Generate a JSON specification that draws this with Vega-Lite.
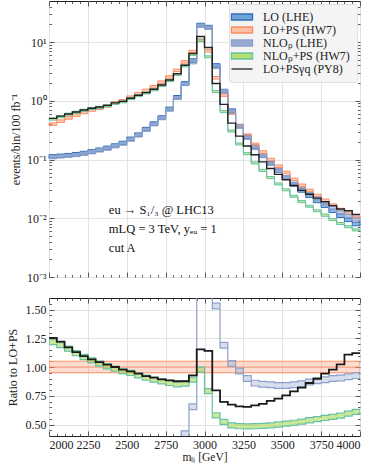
{
"$schema": "https://vega.github.io/schema/vega-lite/v6.json",
"padding": {"left": 5, "top": 0, "right": 15, "bottom": 0},
"spacing": 13,
"config": {
 "font": "Liberation Serif",
 "view": {"stroke": "#222", "strokeWidth": 1},
 "axis": {"labelFont": "Liberation Serif", "titleFont": "Liberation Serif", "labelFontSize": 12, "titleFontSize": 12, "titleFontWeight": "normal", "labelColor": "#222", "titleColor": "#222", "domain": false, "tickColor": "#333", "tickWidth": 0.8, "gridColor": "#e3e3e3", "gridWidth": 1},
 "legend": {"title": null, "orient": "top-right", "offset": 3, "padding": 7, "fillColor": "#f4f4f4", "strokeColor": "#e0e0e0", "cornerRadius": 2, "labelFont": "Liberation Serif", "labelFontSize": 12, "labelColor": "#222", "labelOffset": 15, "rowPadding": 1, "symbolSize": 100, "symbolStrokeWidth": 1.3, "symbolOpacity": 1}
},
"datasets": {
"top": [
{"x0":2000,"x1":2050,"lo":0.113,"lo_dn":0.105,"lo_up":0.121,"ps":0.40,"ps_dn":0.38,"ps_up":0.42,"nlo":0.110,"nlo_dn":0.103,"nlo_up":0.117,"nps":0.487,"nps_dn":0.468,"nps_up":0.506,"py8":0.502},
{"x0":2050,"x1":2100,"lo":0.116,"lo_dn":0.108,"lo_up":0.124,"ps":0.45,"ps_dn":0.428,"ps_up":0.473,"nlo":0.1125,"nlo_dn":0.106,"nlo_up":0.119,"nps":0.536,"nps_dn":0.515,"nps_up":0.557,"py8":0.549},
{"x0":2100,"x1":2150,"lo":0.119,"lo_dn":0.111,"lo_up":0.127,"ps":0.51,"ps_dn":0.485,"ps_up":0.536,"nlo":0.1155,"nlo_dn":0.109,"nlo_up":0.122,"nps":0.592,"nps_dn":0.568,"nps_up":0.616,"py8":0.597},
{"x0":2150,"x1":2200,"lo":0.123,"lo_dn":0.114,"lo_up":0.132,"ps":0.57,"ps_dn":0.542,"ps_up":0.599,"nlo":0.119,"nlo_dn":0.112,"nlo_up":0.126,"nps":0.638,"nps_dn":0.612,"nps_up":0.664,"py8":0.644},
{"x0":2200,"x1":2250,"lo":0.129,"lo_dn":0.120,"lo_up":0.138,"ps":0.635,"ps_dn":0.603,"ps_up":0.667,"nlo":0.125,"nlo_dn":0.118,"nlo_up":0.133,"nps":0.690,"nps_dn":0.662,"nps_up":0.718,"py8":0.695},
{"x0":2250,"x1":2300,"lo":0.137,"lo_dn":0.127,"lo_up":0.147,"ps":0.70,"ps_dn":0.665,"ps_up":0.735,"nlo":0.133,"nlo_dn":0.125,"nlo_up":0.141,"nps":0.741,"nps_dn":0.711,"nps_up":0.771,"py8":0.746},
{"x0":2300,"x1":2350,"lo":0.147,"lo_dn":0.137,"lo_up":0.157,"ps":0.75,"ps_dn":0.713,"ps_up":0.788,"nlo":0.143,"nlo_dn":0.134,"nlo_up":0.152,"nps":0.773,"nps_dn":0.742,"nps_up":0.804,"py8":0.782},
{"x0":2350,"x1":2400,"lo":0.158,"lo_dn":0.147,"lo_up":0.169,"ps":0.82,"ps_dn":0.779,"ps_up":0.861,"nlo":0.153,"nlo_dn":0.144,"nlo_up":0.162,"nps":0.824,"nps_dn":0.791,"nps_up":0.857,"py8":0.836},
{"x0":2400,"x1":2450,"lo":0.173,"lo_dn":0.161,"lo_up":0.185,"ps":0.92,"ps_dn":0.874,"ps_up":0.966,"nlo":0.168,"nlo_dn":0.158,"nlo_up":0.178,"nps":0.906,"nps_dn":0.870,"nps_up":0.942,"py8":0.92},
{"x0":2450,"x1":2500,"lo":0.192,"lo_dn":0.179,"lo_up":0.205,"ps":1.00,"ps_dn":0.95,"ps_up":1.05,"nlo":0.186,"nlo_dn":0.175,"nlo_up":0.197,"nps":0.962,"nps_dn":0.924,"nps_up":1.00,"py8":0.977},
{"x0":2500,"x1":2550,"lo":0.225,"lo_dn":0.209,"lo_up":0.241,"ps":1.15,"ps_dn":1.09,"ps_up":1.21,"nlo":0.218,"nlo_dn":0.205,"nlo_up":0.231,"nps":1.090,"nps_dn":1.046,"nps_up":1.134,"py8":1.106},
{"x0":2550,"x1":2600,"lo":0.265,"lo_dn":0.246,"lo_up":0.284,"ps":1.32,"ps_dn":1.25,"ps_up":1.39,"nlo":0.257,"nlo_dn":0.242,"nlo_up":0.272,"nps":1.224,"nps_dn":1.175,"nps_up":1.273,"py8":1.243},
{"x0":2600,"x1":2650,"lo":0.33,"lo_dn":0.307,"lo_up":0.353,"ps":1.50,"ps_dn":1.43,"ps_up":1.58,"nlo":0.32,"nlo_dn":0.301,"nlo_up":0.339,"nps":1.361,"nps_dn":1.307,"nps_up":1.415,"py8":1.38},
{"x0":2650,"x1":2700,"lo":0.41,"lo_dn":0.381,"lo_up":0.439,"ps":1.73,"ps_dn":1.64,"ps_up":1.82,"nlo":0.398,"nlo_dn":0.374,"nlo_up":0.422,"nps":1.540,"nps_dn":1.478,"nps_up":1.602,"py8":1.569},
{"x0":2700,"x1":2750,"lo":0.52,"lo_dn":0.484,"lo_up":0.556,"ps":2.08,"ps_dn":1.98,"ps_up":2.18,"nlo":0.505,"nlo_dn":0.475,"nlo_up":0.535,"nps":1.820,"nps_dn":1.747,"nps_up":1.893,"py8":1.857},
{"x0":2750,"x1":2800,"lo":0.73,"lo_dn":0.679,"lo_up":0.781,"ps":2.55,"ps_dn":2.42,"ps_up":2.68,"nlo":0.708,"nlo_dn":0.666,"nlo_up":0.750,"nps":2.196,"nps_dn":2.108,"nps_up":2.284,"py8":2.254},
{"x0":2800,"x1":2850,"lo":1.15,"lo_dn":1.07,"lo_up":1.23,"ps":3.30,"ps_dn":3.14,"ps_up":3.47,"nlo":1.115,"nlo_dn":1.05,"nlo_up":1.18,"nps":2.802,"nps_dn":2.690,"nps_up":2.914,"py8":2.89},
{"x0":2850,"x1":2900,"lo":1.98,"lo_dn":1.84,"lo_up":2.12,"ps":4.60,"ps_dn":4.37,"ps_up":4.83,"nlo":1.93,"nlo_dn":1.81,"nlo_up":2.05,"nps":3.933,"nps_dn":3.776,"nps_up":4.090,"py8":4.03},
{"x0":2900,"x1":2950,"lo":4.85,"lo_dn":4.51,"lo_up":5.19,"ps":6.90,"ps_dn":6.56,"ps_up":7.25,"nlo":4.52,"nlo_dn":4.25,"nlo_up":4.79,"nps":6.141,"nps_dn":5.895,"nps_up":6.387,"py8":6.40},
{"x0":2950,"x1":3000,"lo":19.5,"lo_dn":18.1,"lo_up":20.9,"ps":10.8,"ps_dn":10.3,"ps_up":11.3,"nlo":19.0,"nlo_dn":17.9,"nlo_up":20.1,"nps":10.55,"nps_dn":10.13,"nps_up":10.97,"py8":12.45},
{"x0":3000,"x1":3050,"lo":18.0,"lo_dn":16.7,"lo_up":19.3,"ps":7.10,"ps_dn":6.75,"ps_up":7.46,"nlo":17.5,"nlo_dn":16.5,"nlo_up":18.6,"nps":5.609,"nps_dn":5.385,"nps_up":5.833,"py8":8.09},
{"x0":3050,"x1":3100,"lo":4.0,"lo_dn":3.72,"lo_up":4.28,"ps":2.47,"ps_dn":2.35,"ps_up":2.59,"nlo":3.78,"nlo_dn":3.55,"nlo_up":4.01,"nps":1.433,"nps_dn":1.376,"nps_up":1.490,"py8":1.969},
{"x0":3100,"x1":3150,"lo":1.45,"lo_dn":1.35,"lo_up":1.55,"ps":1.25,"ps_dn":1.19,"ps_up":1.31,"nlo":1.49,"nlo_dn":1.40,"nlo_up":1.58,"nps":0.654,"nps_dn":0.628,"nps_up":0.680,"py8":0.87},
{"x0":3150,"x1":3200,"lo":0.68,"lo_dn":0.632,"lo_up":0.728,"ps":0.62,"ps_dn":0.589,"ps_up":0.651,"nlo":0.639,"nlo_dn":0.601,"nlo_up":0.677,"nps":0.306,"nps_dn":0.294,"nps_up":0.318,"py8":0.417},
{"x0":3200,"x1":3250,"lo":0.37,"lo_dn":0.344,"lo_up":0.396,"ps":0.38,"ps_dn":0.361,"ps_up":0.399,"nlo":0.367,"nlo_dn":0.345,"nlo_up":0.389,"nps":0.184,"nps_dn":0.177,"nps_up":0.191,"py8":0.250},
{"x0":3250,"x1":3300,"lo":0.245,"lo_dn":0.228,"lo_up":0.262,"ps":0.26,"ps_dn":0.247,"ps_up":0.273,"nlo":0.234,"nlo_dn":0.220,"nlo_up":0.248,"nps":0.126,"nps_dn":0.121,"nps_up":0.131,"py8":0.170},
{"x0":3300,"x1":3350,"lo":0.165,"lo_dn":0.153,"lo_up":0.177,"ps":0.181,"ps_dn":0.172,"ps_up":0.190,"nlo":0.156,"nlo_dn":0.147,"nlo_up":0.165,"nps":0.0878,"nps_dn":0.0843,"nps_up":0.0913,"py8":0.1207},
{"x0":3350,"x1":3400,"lo":0.118,"lo_dn":0.110,"lo_up":0.126,"ps":0.134,"ps_dn":0.127,"ps_up":0.141,"nlo":0.114,"nlo_dn":0.107,"nlo_up":0.121,"nps":0.0654,"nps_dn":0.0628,"nps_up":0.0680,"py8":0.0911},
{"x0":3400,"x1":3450,"lo":0.086,"lo_dn":0.080,"lo_up":0.092,"ps":0.100,"ps_dn":0.095,"ps_up":0.105,"nlo":0.0845,"nlo_dn":0.0794,"nlo_up":0.0896,"nps":0.0493,"nps_dn":0.0473,"nps_up":0.0513,"py8":0.0705},
{"x0":3450,"x1":3500,"lo":0.0647,"lo_dn":0.0602,"lo_up":0.0692,"ps":0.077,"ps_dn":0.0732,"ps_up":0.0809,"nlo":0.0647,"nlo_dn":0.0608,"nlo_up":0.0686,"nps":0.0385,"nps_dn":0.0370,"nps_up":0.0400,"py8":0.0558},
{"x0":3500,"x1":3550,"lo":0.0498,"lo_dn":0.0463,"lo_up":0.0533,"ps":0.060,"ps_dn":0.057,"ps_up":0.063,"nlo":0.0504,"nlo_dn":0.0474,"nlo_up":0.0534,"nps":0.0305,"nps_dn":0.0293,"nps_up":0.0317,"py8":0.0452},
{"x0":3550,"x1":3600,"lo":0.0377,"lo_dn":0.0351,"lo_up":0.0403,"ps":0.046,"ps_dn":0.0437,"ps_up":0.0483,"nlo":0.0389,"nlo_dn":0.0366,"nlo_up":0.0412,"nps":0.0237,"nps_dn":0.0228,"nps_up":0.0246,"py8":0.0362},
{"x0":3600,"x1":3650,"lo":0.0299,"lo_dn":0.0278,"lo_up":0.0320,"ps":0.0365,"ps_dn":0.0347,"ps_up":0.0383,"nlo":0.0312,"nlo_dn":0.0293,"nlo_up":0.0331,"nps":0.0192,"nps_dn":0.0184,"nps_up":0.0200,"py8":0.0299},
{"x0":3650,"x1":3700,"lo":0.0244,"lo_dn":0.0227,"lo_up":0.0261,"ps":0.0298,"ps_dn":0.0283,"ps_up":0.0313,"nlo":0.0259,"nlo_dn":0.0243,"nlo_up":0.0275,"nps":0.0160,"nps_dn":0.0154,"nps_up":0.0166,"py8":0.0257},
{"x0":3700,"x1":3750,"lo":0.0198,"lo_dn":0.0184,"lo_up":0.0212,"ps":0.0245,"ps_dn":0.0233,"ps_up":0.0257,"nlo":0.0216,"nlo_dn":0.0203,"nlo_up":0.0229,"nps":0.0134,"nps_dn":0.0129,"nps_up":0.0139,"py8":0.0220},
{"x0":3750,"x1":3800,"lo":0.0164,"lo_dn":0.0153,"lo_up":0.0175,"ps":0.0203,"ps_dn":0.0193,"ps_up":0.0213,"nlo":0.0181,"nlo_dn":0.0170,"nlo_up":0.0192,"nps":0.0113,"nps_dn":0.0108,"nps_up":0.0118,"py8":0.0191},
{"x0":3800,"x1":3850,"lo":0.0134,"lo_dn":0.0125,"lo_up":0.0143,"ps":0.0168,"ps_dn":0.0160,"ps_up":0.0176,"nlo":0.0151,"nlo_dn":0.0142,"nlo_up":0.0160,"nps":0.00951,"nps_dn":0.00913,"nps_up":0.00989,"py8":0.0164},
{"x0":3850,"x1":3900,"lo":0.0111,"lo_dn":0.0103,"lo_up":0.0119,"ps":0.0141,"ps_dn":0.0134,"ps_up":0.0148,"nlo":0.0128,"nlo_dn":0.0120,"nlo_up":0.0136,"nps":0.00815,"nps_dn":0.00782,"nps_up":0.00848,"py8":0.0144},
{"x0":3900,"x1":3950,"lo":0.00944,"lo_dn":0.00878,"lo_up":0.0101,"ps":0.0121,"ps_dn":0.0115,"ps_up":0.0127,"nlo":0.0111,"nlo_dn":0.0104,"nlo_up":0.0118,"nps":0.00720,"nps_dn":0.00691,"nps_up":0.00749,"py8":0.0134},
{"x0":3950,"x1":4000,"lo":0.0080,"lo_dn":0.00744,"lo_up":0.00856,"ps":0.0104,"ps_dn":0.00988,"ps_up":0.0109,"nlo":0.00962,"nlo_dn":0.00904,"nlo_up":0.0102,"nps":0.00634,"nps_dn":0.00609,"nps_up":0.00659,"py8":0.0116}
],
"ratio": [
{"x0":2000,"x1":2050,"ps":1,"ps_dn":0.95,"ps_up":1.05,"nlo":0.275,"nlo_dn":0.25,"nlo_up":0.30,"nps":1.217,"nps_dn":1.195,"nps_up":1.239,"py8":1.254},
{"x0":2050,"x1":2100,"ps":1,"ps_dn":0.95,"ps_up":1.05,"nlo":0.25,"nlo_dn":0.225,"nlo_up":0.275,"nps":1.19,"nps_dn":1.168,"nps_up":1.212,"py8":1.22},
{"x0":2100,"x1":2150,"ps":1,"ps_dn":0.95,"ps_up":1.05,"nlo":0.226,"nlo_dn":0.201,"nlo_up":0.251,"nps":1.16,"nps_dn":1.138,"nps_up":1.182,"py8":1.17},
{"x0":2150,"x1":2200,"ps":1,"ps_dn":0.95,"ps_up":1.05,"nlo":0.209,"nlo_dn":0.184,"nlo_up":0.234,"nps":1.12,"nps_dn":1.098,"nps_up":1.142,"py8":1.13},
{"x0":2200,"x1":2250,"ps":1,"ps_dn":0.95,"ps_up":1.05,"nlo":0.197,"nlo_dn":0.172,"nlo_up":0.222,"nps":1.087,"nps_dn":1.065,"nps_up":1.109,"py8":1.095},
{"x0":2250,"x1":2300,"ps":1,"ps_dn":0.95,"ps_up":1.05,"nlo":0.19,"nlo_dn":0.165,"nlo_up":0.215,"nps":1.058,"nps_dn":1.036,"nps_up":1.08,"py8":1.066},
{"x0":2300,"x1":2350,"ps":1,"ps_dn":0.95,"ps_up":1.05,"nlo":0.191,"nlo_dn":0.166,"nlo_up":0.216,"nps":1.03,"nps_dn":1.008,"nps_up":1.052,"py8":1.043},
{"x0":2350,"x1":2400,"ps":1,"ps_dn":0.95,"ps_up":1.05,"nlo":0.187,"nlo_dn":0.162,"nlo_up":0.212,"nps":1.005,"nps_dn":0.983,"nps_up":1.027,"py8":1.02},
{"x0":2400,"x1":2450,"ps":1,"ps_dn":0.95,"ps_up":1.05,"nlo":0.183,"nlo_dn":0.158,"nlo_up":0.208,"nps":0.985,"nps_dn":0.963,"nps_up":1.007,"py8":1.0},
{"x0":2450,"x1":2500,"ps":1,"ps_dn":0.95,"ps_up":1.05,"nlo":0.186,"nlo_dn":0.161,"nlo_up":0.211,"nps":0.962,"nps_dn":0.94,"nps_up":0.984,"py8":0.977},
{"x0":2500,"x1":2550,"ps":1,"ps_dn":0.95,"ps_up":1.05,"nlo":0.19,"nlo_dn":0.165,"nlo_up":0.215,"nps":0.948,"nps_dn":0.926,"nps_up":0.97,"py8":0.962},
{"x0":2550,"x1":2600,"ps":1,"ps_dn":0.95,"ps_up":1.05,"nlo":0.195,"nlo_dn":0.17,"nlo_up":0.22,"nps":0.927,"nps_dn":0.905,"nps_up":0.949,"py8":0.942},
{"x0":2600,"x1":2650,"ps":1,"ps_dn":0.95,"ps_up":1.05,"nlo":0.213,"nlo_dn":0.188,"nlo_up":0.238,"nps":0.907,"nps_dn":0.885,"nps_up":0.929,"py8":0.92},
{"x0":2650,"x1":2700,"ps":1,"ps_dn":0.95,"ps_up":1.05,"nlo":0.23,"nlo_dn":0.205,"nlo_up":0.255,"nps":0.89,"nps_dn":0.868,"nps_up":0.912,"py8":0.907},
{"x0":2700,"x1":2750,"ps":1,"ps_dn":0.95,"ps_up":1.05,"nlo":0.243,"nlo_dn":0.218,"nlo_up":0.268,"nps":0.875,"nps_dn":0.853,"nps_up":0.897,"py8":0.893},
{"x0":2750,"x1":2800,"ps":1,"ps_dn":0.95,"ps_up":1.05,"nlo":0.278,"nlo_dn":0.253,"nlo_up":0.303,"nps":0.861,"nps_dn":0.839,"nps_up":0.883,"py8":0.884},
{"x0":2800,"x1":2850,"ps":1,"ps_dn":0.95,"ps_up":1.05,"nlo":0.338,"nlo_dn":0.313,"nlo_up":0.363,"nps":0.849,"nps_dn":0.827,"nps_up":0.871,"py8":0.876},
{"x0":2850,"x1":2900,"ps":1,"ps_dn":0.95,"ps_up":1.05,"nlo":0.42,"nlo_dn":0.395,"nlo_up":0.445,"nps":0.855,"nps_dn":0.833,"nps_up":0.877,"py8":0.876},
{"x0":2900,"x1":2950,"ps":1,"ps_dn":0.95,"ps_up":1.05,"nlo":0.655,"nlo_dn":0.63,"nlo_up":0.68,"nps":0.89,"nps_dn":0.868,"nps_up":0.912,"py8":0.927},
{"x0":2950,"x1":3000,"ps":1,"ps_dn":0.95,"ps_up":1.05,"nlo":1.76,"nlo_dn":1.735,"nlo_up":1.785,"nps":0.977,"nps_dn":0.955,"nps_up":0.999,"py8":1.153},
{"x0":3000,"x1":3050,"ps":1,"ps_dn":0.95,"ps_up":1.05,"nlo":2.46,"nlo_dn":2.435,"nlo_up":2.485,"nps":0.79,"nps_dn":0.768,"nps_up":0.812,"py8":1.14},
{"x0":3050,"x1":3100,"ps":1,"ps_dn":0.95,"ps_up":1.05,"nlo":1.53,"nlo_dn":1.505,"nlo_up":1.555,"nps":0.58,"nps_dn":0.558,"nps_up":0.602,"py8":0.797},
{"x0":3100,"x1":3150,"ps":1,"ps_dn":0.95,"ps_up":1.05,"nlo":1.19,"nlo_dn":1.165,"nlo_up":1.215,"nps":0.523,"nps_dn":0.501,"nps_up":0.545,"py8":0.696},
{"x0":3150,"x1":3200,"ps":1,"ps_dn":0.95,"ps_up":1.05,"nlo":1.03,"nlo_dn":1.005,"nlo_up":1.055,"nps":0.493,"nps_dn":0.471,"nps_up":0.515,"py8":0.673},
{"x0":3200,"x1":3250,"ps":1,"ps_dn":0.95,"ps_up":1.05,"nlo":0.965,"nlo_dn":0.94,"nlo_up":0.99,"nps":0.485,"nps_dn":0.463,"nps_up":0.507,"py8":0.658},
{"x0":3250,"x1":3300,"ps":1,"ps_dn":0.95,"ps_up":1.05,"nlo":0.90,"nlo_dn":0.875,"nlo_up":0.925,"nps":0.484,"nps_dn":0.462,"nps_up":0.506,"py8":0.653},
{"x0":3300,"x1":3350,"ps":1,"ps_dn":0.95,"ps_up":1.05,"nlo":0.86,"nlo_dn":0.835,"nlo_up":0.885,"nps":0.485,"nps_dn":0.463,"nps_up":0.507,"py8":0.667},
{"x0":3350,"x1":3400,"ps":1,"ps_dn":0.95,"ps_up":1.05,"nlo":0.85,"nlo_dn":0.825,"nlo_up":0.875,"nps":0.488,"nps_dn":0.466,"nps_up":0.51,"py8":0.68},
{"x0":3400,"x1":3450,"ps":1,"ps_dn":0.95,"ps_up":1.05,"nlo":0.845,"nlo_dn":0.82,"nlo_up":0.87,"nps":0.493,"nps_dn":0.471,"nps_up":0.515,"py8":0.705},
{"x0":3450,"x1":3500,"ps":1,"ps_dn":0.95,"ps_up":1.05,"nlo":0.84,"nlo_dn":0.815,"nlo_up":0.865,"nps":0.50,"nps_dn":0.478,"nps_up":0.522,"py8":0.725},
{"x0":3500,"x1":3550,"ps":1,"ps_dn":0.95,"ps_up":1.05,"nlo":0.84,"nlo_dn":0.815,"nlo_up":0.865,"nps":0.508,"nps_dn":0.486,"nps_up":0.53,"py8":0.754},
{"x0":3550,"x1":3600,"ps":1,"ps_dn":0.95,"ps_up":1.05,"nlo":0.845,"nlo_dn":0.82,"nlo_up":0.87,"nps":0.515,"nps_dn":0.493,"nps_up":0.537,"py8":0.788},
{"x0":3600,"x1":3650,"ps":1,"ps_dn":0.95,"ps_up":1.05,"nlo":0.855,"nlo_dn":0.83,"nlo_up":0.88,"nps":0.525,"nps_dn":0.503,"nps_up":0.547,"py8":0.82},
{"x0":3650,"x1":3700,"ps":1,"ps_dn":0.95,"ps_up":1.05,"nlo":0.87,"nlo_dn":0.845,"nlo_up":0.895,"nps":0.537,"nps_dn":0.515,"nps_up":0.559,"py8":0.861},
{"x0":3700,"x1":3750,"ps":1,"ps_dn":0.95,"ps_up":1.05,"nlo":0.88,"nlo_dn":0.855,"nlo_up":0.905,"nps":0.547,"nps_dn":0.525,"nps_up":0.569,"py8":0.898},
{"x0":3750,"x1":3800,"ps":1,"ps_dn":0.95,"ps_up":1.05,"nlo":0.89,"nlo_dn":0.865,"nlo_up":0.915,"nps":0.557,"nps_dn":0.535,"nps_up":0.579,"py8":0.942},
{"x0":3800,"x1":3850,"ps":1,"ps_dn":0.95,"ps_up":1.05,"nlo":0.90,"nlo_dn":0.875,"nlo_up":0.925,"nps":0.566,"nps_dn":0.544,"nps_up":0.588,"py8":0.977},
{"x0":3850,"x1":3900,"ps":1,"ps_dn":0.95,"ps_up":1.05,"nlo":0.905,"nlo_dn":0.88,"nlo_up":0.93,"nps":0.578,"nps_dn":0.556,"nps_up":0.6,"py8":1.023},
{"x0":3900,"x1":3950,"ps":1,"ps_dn":0.95,"ps_up":1.05,"nlo":0.915,"nlo_dn":0.89,"nlo_up":0.94,"nps":0.595,"nps_dn":0.573,"nps_up":0.617,"py8":1.107},
{"x0":3950,"x1":4000,"ps":1,"ps_dn":0.95,"ps_up":1.05,"nlo":0.925,"nlo_dn":0.90,"nlo_up":0.95,"nps":0.61,"nps_dn":0.588,"nps_up":0.632,"py8":1.12}
]
},
"vconcat": [
{
 "width": 311, "height": 276,
 "data": {"name": "top"},
 "transform": [{"fold": ["x0", "x1"], "as": ["k", "edge"]}],
 "resolve": {"axis": {"x": "independent", "y": "independent"}},
 "layer": [
  {
   "mark": {"type": "area", "fillOpacity": 0.8, "strokeWidth": 1},
   "encoding": {
    "x": {"field": "edge", "type": "quantitative", "scale": {"domain": [2000, 4000], "nice": false, "zero": false},
     "axis": {"orient": "bottom", "title": null, "labels": false, "values": [2000,2050,2100,2150,2200,2250,2300,2350,2400,2450,2500,2550,2600,2650,2700,2750,2800,2850,2900,2950,3000,3050,3100,3150,3200,3250,3300,3350,3400,3450,3500,3550,3600,3650,3700,3750,3800,3850,3900,3950,4000],
      "tickSize": {"condition": {"test": "datum.value % 250 == 0", "value": -5}, "value": -2.5},
      "grid": true, "gridOpacity": {"condition": {"test": "datum.value % 250 == 0", "value": 1}, "value": 0}}},
    "y": {"field": "lo_dn", "type": "quantitative", "stack": null, "scale": {"type": "log", "domain": [0.001, 50], "nice": false},
     "axis": {"orient": "left", "title": "events/bin/100 fb⁻¹", "titlePadding": 4, "labelPadding": 8,
      "values": [0.001,0.002,0.003,0.004,0.005,0.006,0.007,0.008,0.009,0.01,0.02,0.03,0.04,0.05,0.06,0.07,0.08,0.09,0.1,0.2,0.3,0.4,0.5,0.6,0.7,0.8,0.9,1,2,3,4,5,6,7,8,9,10,20,30,40],
      "labelExpr": "datum.value==0.001?'10⁻³':datum.value==0.01?'10⁻²':datum.value==0.1?'10⁻¹':datum.value==1?'10⁰':datum.value==10?'10¹':''",
      "tickSize": {"condition": {"test": "datum.value==0.001||datum.value==0.01||datum.value==0.1||datum.value==1||datum.value==10", "value": -5}, "value": -2.5},
      "grid": true, "gridOpacity": {"condition": {"test": "datum.value==0.001||datum.value==0.01||datum.value==0.1||datum.value==1||datum.value==10", "value": 1}, "value": 0}}},
    "y2": {"field": "lo_up"},
    "color": {"datum": "LO (LHE)", "type": "nominal",
     "scale": {"domain": ["LO (LHE)", "LO+PS (HW7)", "NLOₚ (LHE)", "NLOₚ+PS (HW7)", "LO+PSγq (PY8)"], "range": ["#6fa5da", "#fdbfa5", "#98a9d2", "#b5de72", "#222222"]}},
    "stroke": {"datum": "LO (LHE)", "type": "nominal",
     "scale": {"domain": ["LO (LHE)", "LO+PS (HW7)", "NLOₚ (LHE)", "NLOₚ+PS (HW7)", "LO+PSγq (PY8)"], "range": ["#2f6db5", "#fc8d62", "#8da0cb", "#66c2a5", "#222222"]}}
   }
  },
  {
   "mark": {"type": "point", "opacity": 0, "size": 1},
   "encoding": {
    "x": {"field": "edge", "type": "quantitative", "axis": null},
    "y": {"field": "py8", "type": "quantitative", "axis": null},
    "shape": {"datum": "LO (LHE)", "type": "nominal",
     "scale": {"domain": ["LO (LHE)", "LO+PS (HW7)", "NLOₚ (LHE)", "NLOₚ+PS (HW7)", "LO+PSγq (PY8)"], "range": ["M-2.1,-0.6H2.1V0.6H-2.1Z", "M-2.1,-0.6H2.1V0.6H-2.1Z", "M-2.1,-0.6H2.1V0.6H-2.1Z", "M-2.1,-0.6H2.1V0.6H-2.1Z", "M-2.1,0H2.1"]}}
   }
  },
  {
   "mark": {"type": "area", "fill": "#fc8d62", "fillOpacity": 0.45, "stroke": "#fc8d62", "strokeWidth": 1},
   "encoding": {
    "x": {"field": "edge", "type": "quantitative",
     "axis": {"orient": "top", "title": null, "labels": false, "grid": false, "values": [2000,2050,2100,2150,2200,2250,2300,2350,2400,2450,2500,2550,2600,2650,2700,2750,2800,2850,2900,2950,3000,3050,3100,3150,3200,3250,3300,3350,3400,3450,3500,3550,3600,3650,3700,3750,3800,3850,3900,3950,4000],
      "tickSize": {"condition": {"test": "datum.value % 250 == 0", "value": -5}, "value": -2.5}}},
    "y": {"field": "ps_dn", "type": "quantitative", "stack": null,
     "axis": {"orient": "right", "title": null, "labels": false, "grid": false,
      "values": [0.001,0.002,0.003,0.004,0.005,0.006,0.007,0.008,0.009,0.01,0.02,0.03,0.04,0.05,0.06,0.07,0.08,0.09,0.1,0.2,0.3,0.4,0.5,0.6,0.7,0.8,0.9,1,2,3,4,5,6,7,8,9,10,20,30,40],
      "tickSize": {"condition": {"test": "datum.value==0.001||datum.value==0.01||datum.value==0.1||datum.value==1||datum.value==10", "value": -5}, "value": -2.5}}},
    "y2": {"field": "ps_up"}
   }
  },
  {
   "mark": {"type": "area", "fill": "#8da0cb", "fillOpacity": 0.55, "stroke": "#8da0cb", "strokeWidth": 1},
   "encoding": {
    "x": {"field": "edge", "type": "quantitative", "axis": null},
    "y": {"field": "nlo_dn", "type": "quantitative", "stack": null, "axis": null},
    "y2": {"field": "nlo_up"}
   }
  },
  {
   "mark": {"type": "area", "fill": "#a6d854", "fillOpacity": 0.6, "stroke": "#66c2a5", "strokeWidth": 1},
   "encoding": {
    "x": {"field": "edge", "type": "quantitative", "axis": null},
    "y": {"field": "nps_dn", "type": "quantitative", "stack": null, "axis": null},
    "y2": {"field": "nps_up"}
   }
  },
  {
   "mark": {"type": "line", "color": "#222222", "strokeWidth": 1.4},
   "encoding": {
    "x": {"field": "edge", "type": "quantitative", "axis": null},
    "y": {"field": "py8", "type": "quantitative", "axis": null}
   }
  },
  {
   "data": {"values": [{"note": "annotation"}]},
   "transform": [],
   "mark": {"type": "text", "align": "left", "baseline": "top", "fontSize": 12.5, "lineHeight": 19, "font": "Liberation Serif", "color": "#111"},
   "encoding": {
    "x": {"datum": 2385, "type": "quantitative", "axis": null},
    "y": {"datum": 0.0175, "type": "quantitative", "axis": null},
    "text": {"value": ["eu → S₁/₃ @ LHC13", "mLQ = 3 TeV, yₑᵤ = 1", "cut A"]}
   }
  }
 ]
},
{
 "width": 311, "height": 138,
 "data": {"name": "ratio"},
 "transform": [{"fold": ["x0", "x1"], "as": ["k", "edge"]}],
 "resolve": {"axis": {"x": "independent", "y": "independent"}},
 "layer": [
  {
   "mark": {"type": "area", "fillOpacity": 0.3, "fill": "#fc8d62", "stroke": "#fc8d62", "strokeWidth": 1, "clip": true},
   "encoding": {
    "x": {"field": "edge", "type": "quantitative", "scale": {"domain": [2000, 4000], "nice": false, "zero": false},
     "axis": {"orient": "bottom", "title": "mₗⱼ [GeV]", "titleFontSize": 11.5, "titlePadding": 1, "labelPadding": 8, "format": "d", "values": [2000,2050,2100,2150,2200,2250,2300,2350,2400,2450,2500,2550,2600,2650,2700,2750,2800,2850,2900,2950,3000,3050,3100,3150,3200,3250,3300,3350,3400,3450,3500,3550,3600,3650,3700,3750,3800,3850,3900,3950,4000],
      "labelExpr": "datum.value % 250 == 0 ? datum.label : ''",
      "tickSize": {"condition": {"test": "datum.value % 250 == 0", "value": -5}, "value": -2.5},
      "grid": true, "gridOpacity": {"condition": {"test": "datum.value % 250 == 0", "value": 1}, "value": 0}}},
    "y": {"field": "ps_dn", "type": "quantitative", "stack": null, "scale": {"domain": [0.4, 1.6], "nice": false, "zero": false},
     "axis": {"orient": "left", "title": "Ratio to LO+PS", "titlePadding": 6, "labelPadding": 8,
      "values": [0.45,0.5,0.55,0.6,0.65,0.7,0.75,0.8,0.85,0.9,0.95,1,1.05,1.1,1.15,1.2,1.25,1.3,1.35,1.4,1.45,1.5,1.55],
      "labelExpr": "(datum.value==0.5||datum.value==0.75||datum.value==1||datum.value==1.25||datum.value==1.5) ? format(datum.value, '.2f') : ''",
      "tickSize": {"condition": {"test": "datum.value==0.5||datum.value==0.75||datum.value==1||datum.value==1.25||datum.value==1.5", "value": -5}, "value": -2.5},
      "grid": true, "gridOpacity": {"condition": {"test": "datum.value==0.5||datum.value==0.75||datum.value==1||datum.value==1.25||datum.value==1.5", "value": 1}, "value": 0}}},
    "y2": {"field": "ps_up"}
   }
  },
  {
   "mark": {"type": "line", "color": "#fc8d62", "strokeWidth": 0.8, "clip": true},
   "encoding": {
    "x": {"field": "edge", "type": "quantitative",
     "axis": {"orient": "top", "title": null, "labels": false, "grid": false, "values": [2000,2050,2100,2150,2200,2250,2300,2350,2400,2450,2500,2550,2600,2650,2700,2750,2800,2850,2900,2950,3000,3050,3100,3150,3200,3250,3300,3350,3400,3450,3500,3550,3600,3650,3700,3750,3800,3850,3900,3950,4000],
      "tickSize": {"condition": {"test": "datum.value % 250 == 0", "value": -5}, "value": -2.5}}},
    "y": {"field": "ps", "type": "quantitative",
     "axis": {"orient": "right", "title": null, "labels": false, "grid": false,
      "values": [0.45,0.5,0.55,0.6,0.65,0.7,0.75,0.8,0.85,0.9,0.95,1,1.05,1.1,1.15,1.2,1.25,1.3,1.35,1.4,1.45,1.5,1.55],
      "tickSize": {"condition": {"test": "datum.value==0.5||datum.value==0.75||datum.value==1||datum.value==1.25||datum.value==1.5", "value": -5}, "value": -2.5}}}
   }
  },
  {
   "mark": {"type": "area", "fillOpacity": 0.35, "fill": "#8da0cb", "stroke": "#8da0cb", "strokeWidth": 1.2, "clip": true},
   "encoding": {
    "x": {"field": "edge", "type": "quantitative", "axis": null},
    "y": {"field": "nlo_dn", "type": "quantitative", "stack": null, "axis": null},
    "y2": {"field": "nlo_up"}
   }
  },
  {
   "mark": {"type": "area", "fillOpacity": 0.6, "fill": "#a6d854", "stroke": "#66c2a5", "strokeWidth": 1.2, "clip": true},
   "encoding": {
    "x": {"field": "edge", "type": "quantitative", "axis": null},
    "y": {"field": "nps_dn", "type": "quantitative", "stack": null, "axis": null},
    "y2": {"field": "nps_up"}
   }
  },
  {
   "mark": {"type": "line", "color": "#1a1a1a", "strokeWidth": 1.8, "clip": true},
   "encoding": {
    "x": {"field": "edge", "type": "quantitative", "axis": null},
    "y": {"field": "py8", "type": "quantitative", "axis": null}
   }
  }
 ]
}
]
}
